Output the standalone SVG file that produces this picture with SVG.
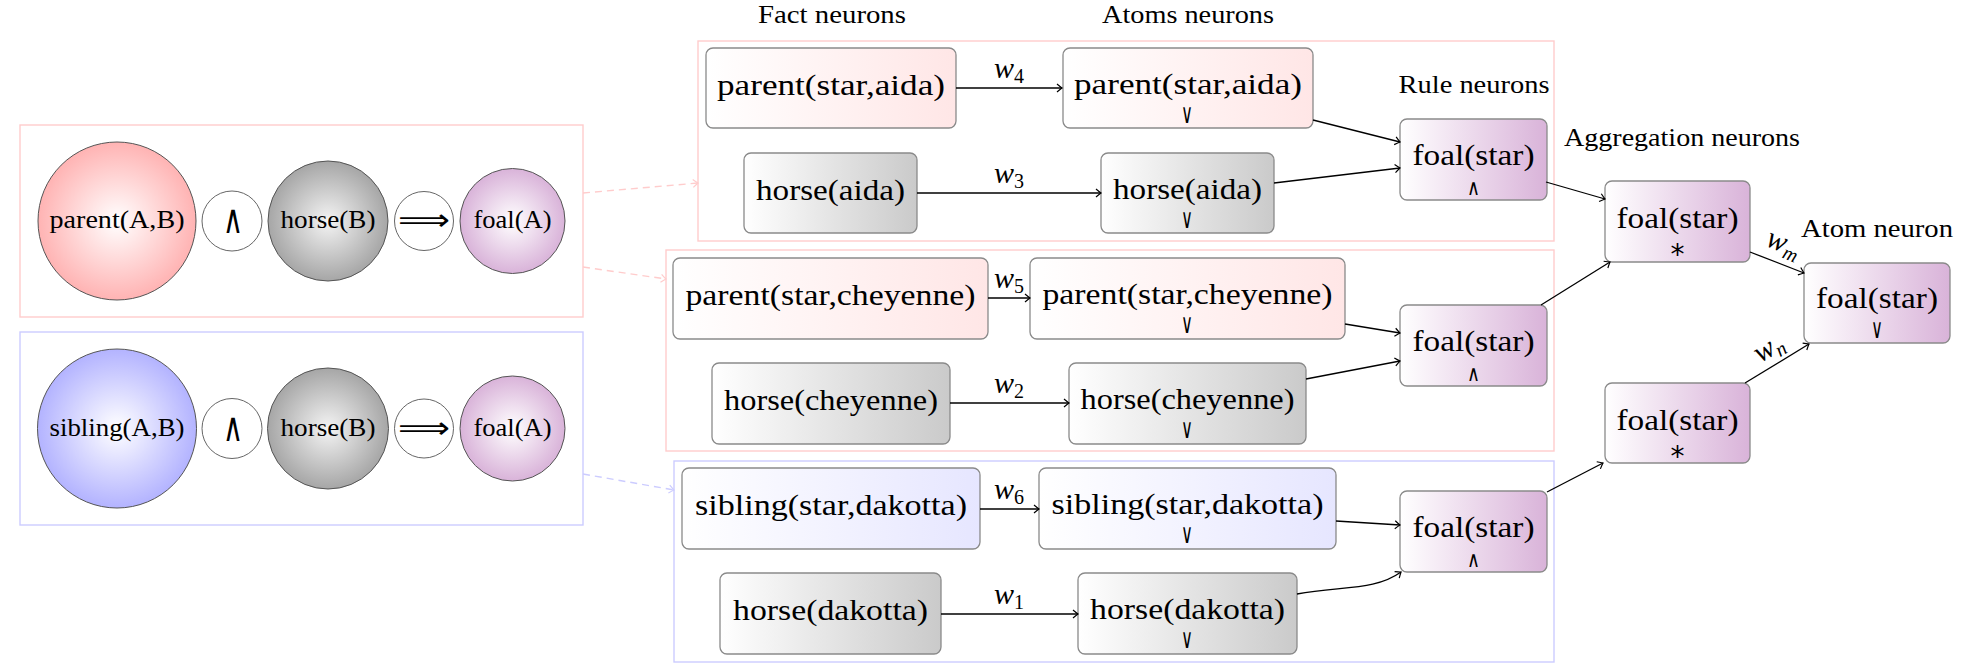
<svg xmlns="http://www.w3.org/2000/svg" width="1974" height="672" viewBox="0 0 1974 672">
<style>
  .lbl { font-family: "Liberation Serif", "DejaVu Serif", serif; font-size: 30px; fill: #000; text-anchor: middle; }
  .clbl { font-family: "Liberation Serif", "DejaVu Serif", serif; font-size: 25px; fill: #000; text-anchor: middle; }
  .hdr { font-family: "Liberation Serif", "DejaVu Serif", serif; font-size: 26px; fill: #000; text-anchor: middle; }
  .sym { font-family: "DejaVu Sans", sans-serif; font-size: 27px; fill: #000; text-anchor: middle; }
  .rsym { font-family: "DejaVu Sans", sans-serif; font-size: 22px; fill: #000; text-anchor: middle; }
  .ast { font-family: "DejaVu Sans", sans-serif; font-size: 28px; fill: #000; text-anchor: middle; }
  .bigsym { font-family: "DejaVu Sans", sans-serif; fill: #000; text-anchor: middle; }
  .w { font-family: "Liberation Serif", "DejaVu Serif", serif; font-size: 30px; font-style: italic; fill: #000; }
  .sub { font-size: 20px; font-style: normal; }
  .subi { font-size: 20px; font-style: italic; }
  .box { stroke: #8a8a8a; stroke-width: 1.3; }
  .ball { stroke: #555; stroke-width: 1; }
  .op { fill: #fff; stroke: #666; stroke-width: 1; }
  .frP { fill: none; stroke: #ffcccc; stroke-width: 1.4; }
  .frB { fill: none; stroke: #ccccff; stroke-width: 1.4; }
  .edge { fill: none; stroke: #000; stroke-width: 1.3; marker-end: url(#arr); }
  .dP { fill: none; stroke: #ffcccc; stroke-width: 1.4; stroke-dasharray: 7 5; marker-end: url(#arrP); }
  .dB { fill: none; stroke: #ccccff; stroke-width: 1.4; stroke-dasharray: 7 5; marker-end: url(#arrB); }
</style>
<defs>
  <linearGradient id="gPink" x1="0" y1="0" x2="1" y2="0"><stop offset="0" stop-color="#ffffff"/><stop offset="1" stop-color="#ffe6e6"/></linearGradient>
  <linearGradient id="gBlue" x1="0" y1="0" x2="1" y2="0"><stop offset="0" stop-color="#ffffff"/><stop offset="1" stop-color="#e6e6ff"/></linearGradient>
  <linearGradient id="gGray" x1="0" y1="0" x2="1" y2="0"><stop offset="0" stop-color="#ffffff"/><stop offset="1" stop-color="#cacaca"/></linearGradient>
  <linearGradient id="gViolet" x1="0" y1="0" x2="1" y2="0"><stop offset="0" stop-color="#ffffff"/><stop offset="1" stop-color="#d9b3d9"/></linearGradient>
  <radialGradient id="rPink"><stop offset="0" stop-color="#ffffff"/><stop offset="1" stop-color="#ffb3b3"/></radialGradient>
  <radialGradient id="rBlue"><stop offset="0" stop-color="#ffffff"/><stop offset="1" stop-color="#b3b3ff"/></radialGradient>
  <radialGradient id="rGray"><stop offset="0" stop-color="#f4f4f4"/><stop offset="1" stop-color="#a6a6a6"/></radialGradient>
  <radialGradient id="rViolet"><stop offset="0" stop-color="#ffffff"/><stop offset="1" stop-color="#d9b3d9"/></radialGradient>
  <marker id="arr" markerUnits="userSpaceOnUse" markerWidth="12" markerHeight="12" viewBox="-7 -6 8 12" refX="0" refY="0" orient="auto" overflow="visible">
    <path d="M-5,-4 Q-1.5,-1 0,0 Q-1.5,1 -5,4" fill="none" stroke="#000" stroke-width="1.2"/>
  </marker>
  <marker id="arrP" markerUnits="userSpaceOnUse" markerWidth="12" markerHeight="12" viewBox="-7 -6 8 12" refX="0" refY="0" orient="auto" overflow="visible">
    <path d="M-5,-4 Q-1.5,-1 0,0 Q-1.5,1 -5,4" fill="none" stroke="#ffcccc" stroke-width="1.2"/>
  </marker>
  <marker id="arrB" markerUnits="userSpaceOnUse" markerWidth="12" markerHeight="12" viewBox="-7 -6 8 12" refX="0" refY="0" orient="auto" overflow="visible">
    <path d="M-5,-4 Q-1.5,-1 0,0 Q-1.5,1 -5,4" fill="none" stroke="#ccccff" stroke-width="1.2"/>
  </marker>
</defs>
<rect width="1974" height="672" fill="#fff"/>

<!-- frames -->
<g id="frames">
  <rect class="frP" x="20" y="125" width="563" height="192"/>
  <rect class="frB" x="20" y="332" width="563" height="193"/>
  <rect class="frP" x="698" y="41" width="856" height="200"/>
  <rect class="frP" x="666" y="250" width="888" height="201"/>
  <rect class="frB" x="674" y="461" width="880" height="201"/>
</g>

<!-- headers -->
<g id="headers">
  <text class="hdr" x="832" y="23" textLength="148" lengthAdjust="spacingAndGlyphs">Fact neurons</text>
  <text class="hdr" x="1188" y="23" textLength="172" lengthAdjust="spacingAndGlyphs">Atoms neurons</text>
  <text class="hdr" x="1474" y="93" textLength="151" lengthAdjust="spacingAndGlyphs">Rule neurons</text>
  <text class="hdr" x="1682" y="146" textLength="236" lengthAdjust="spacingAndGlyphs">Aggregation neurons</text>
  <text class="hdr" x="1877" y="237" textLength="152" lengthAdjust="spacingAndGlyphs">Atom neuron</text>
</g>

<!-- rule 1 (left) -->
<g id="rule1-parent"><circle class="ball" cx="117" cy="221" r="79" fill="url(#rPink)"/><text class="clbl" x="117" y="228" textLength="135" lengthAdjust="spacingAndGlyphs">parent(A,B)</text></g>
<g id="rule1-and"><circle class="op" cx="232" cy="221" r="30"/><text class="bigsym" x="233" y="233" font-size="40" textLength="20" lengthAdjust="spacingAndGlyphs">∧</text></g>
<g id="rule1-horse"><circle class="ball" cx="328" cy="221" r="60" fill="url(#rGray)"/><text class="clbl" x="328" y="228" textLength="95" lengthAdjust="spacingAndGlyphs">horse(B)</text></g>
<g id="rule1-impl"><circle class="op" cx="424" cy="221" r="29.5"/><text class="bigsym" x="424" y="230" font-size="30" textLength="52" lengthAdjust="spacingAndGlyphs">⟹</text></g>
<g id="rule1-foal"><circle class="ball" cx="512.5" cy="221" r="52.5" fill="url(#rViolet)"/><text class="clbl" x="512.5" y="228" textLength="78" lengthAdjust="spacingAndGlyphs">foal(A)</text></g>

<!-- rule 2 (left) -->
<g id="rule2-sibling"><circle class="ball" cx="117" cy="428.5" r="79.5" fill="url(#rBlue)"/><text class="clbl" x="117" y="435.5" textLength="135" lengthAdjust="spacingAndGlyphs">sibling(A,B)</text></g>
<g id="rule2-and"><circle class="op" cx="232" cy="428.5" r="30"/><text class="bigsym" x="233" y="440.5" font-size="40" textLength="20" lengthAdjust="spacingAndGlyphs">∧</text></g>
<g id="rule2-horse"><circle class="ball" cx="328" cy="428.5" r="60.5" fill="url(#rGray)"/><text class="clbl" x="328" y="435.5" textLength="95" lengthAdjust="spacingAndGlyphs">horse(B)</text></g>
<g id="rule2-impl"><circle class="op" cx="424" cy="428.5" r="29.5"/><text class="bigsym" x="424" y="437.5" font-size="30" textLength="52" lengthAdjust="spacingAndGlyphs">⟹</text></g>
<g id="rule2-foal"><circle class="ball" cx="512.5" cy="428.5" r="52.5" fill="url(#rViolet)"/><text class="clbl" x="512.5" y="435.5" textLength="78" lengthAdjust="spacingAndGlyphs">foal(A)</text></g>

<!-- fact neurons -->
<g id="fact-parent-aida"><rect class="box" x="706" y="48" width="250" height="80" rx="7" fill="url(#gPink)"/><text class="lbl" x="831" y="95" textLength="228" lengthAdjust="spacingAndGlyphs">parent(star,aida)</text></g>
<g id="fact-horse-aida"><rect class="box" x="744" y="153" width="173" height="80" rx="7" fill="url(#gGray)"/><text class="lbl" x="830.5" y="200" textLength="149" lengthAdjust="spacingAndGlyphs">horse(aida)</text></g>
<g id="fact-parent-cheyenne"><rect class="box" x="673" y="258" width="315" height="81" rx="7" fill="url(#gPink)"/><text class="lbl" x="830.5" y="305" textLength="290" lengthAdjust="spacingAndGlyphs">parent(star,cheyenne)</text></g>
<g id="fact-horse-cheyenne"><rect class="box" x="712" y="363" width="238" height="81" rx="7" fill="url(#gGray)"/><text class="lbl" x="831" y="410" textLength="214" lengthAdjust="spacingAndGlyphs">horse(cheyenne)</text></g>
<g id="fact-sibling-dakotta"><rect class="box" x="682" y="468" width="298" height="81" rx="7" fill="url(#gBlue)"/><text class="lbl" x="831" y="515" textLength="272" lengthAdjust="spacingAndGlyphs">sibling(star,dakotta)</text></g>
<g id="fact-horse-dakotta"><rect class="box" x="720" y="573" width="221" height="81" rx="7" fill="url(#gGray)"/><text class="lbl" x="830.5" y="620" textLength="195" lengthAdjust="spacingAndGlyphs">horse(dakotta)</text></g>

<!-- atom neurons -->
<g id="atom-parent-aida"><rect class="box" x="1063" y="48" width="250" height="80" rx="7" fill="url(#gPink)"/><text class="lbl" x="1188" y="94" textLength="228" lengthAdjust="spacingAndGlyphs">parent(star,aida)</text><text class="sym" x="1187" y="123" textLength="12" lengthAdjust="spacingAndGlyphs">∨</text></g>
<g id="atom-horse-aida"><rect class="box" x="1101" y="153" width="173" height="80" rx="7" fill="url(#gGray)"/><text class="lbl" x="1187.5" y="199" textLength="149" lengthAdjust="spacingAndGlyphs">horse(aida)</text><text class="sym" x="1187" y="228" textLength="12" lengthAdjust="spacingAndGlyphs">∨</text></g>
<g id="atom-parent-cheyenne"><rect class="box" x="1030" y="258" width="315" height="81" rx="7" fill="url(#gPink)"/><text class="lbl" x="1187.5" y="304" textLength="290" lengthAdjust="spacingAndGlyphs">parent(star,cheyenne)</text><text class="sym" x="1187" y="333" textLength="12" lengthAdjust="spacingAndGlyphs">∨</text></g>
<g id="atom-horse-cheyenne"><rect class="box" x="1069" y="363" width="237" height="81" rx="7" fill="url(#gGray)"/><text class="lbl" x="1187.5" y="409" textLength="214" lengthAdjust="spacingAndGlyphs">horse(cheyenne)</text><text class="sym" x="1187" y="438" textLength="12" lengthAdjust="spacingAndGlyphs">∨</text></g>
<g id="atom-sibling-dakotta"><rect class="box" x="1039" y="468" width="297" height="81" rx="7" fill="url(#gBlue)"/><text class="lbl" x="1187.5" y="514" textLength="272" lengthAdjust="spacingAndGlyphs">sibling(star,dakotta)</text><text class="sym" x="1187" y="543" textLength="12" lengthAdjust="spacingAndGlyphs">∨</text></g>
<g id="atom-horse-dakotta"><rect class="box" x="1078" y="573" width="219" height="81" rx="7" fill="url(#gGray)"/><text class="lbl" x="1187.5" y="619" textLength="195" lengthAdjust="spacingAndGlyphs">horse(dakotta)</text><text class="sym" x="1187" y="648" textLength="12" lengthAdjust="spacingAndGlyphs">∨</text></g>

<!-- rule neurons -->
<g id="rule-neuron-1"><rect class="box" x="1400" y="119" width="147" height="81" rx="7" fill="url(#gViolet)"/><text class="lbl" x="1473.5" y="165" textLength="122" lengthAdjust="spacingAndGlyphs">foal(star)</text><text class="rsym" x="1473.5" y="195" textLength="13" lengthAdjust="spacingAndGlyphs">∧</text></g>
<g id="rule-neuron-2"><rect class="box" x="1400" y="305" width="147" height="81" rx="7" fill="url(#gViolet)"/><text class="lbl" x="1473.5" y="351" textLength="122" lengthAdjust="spacingAndGlyphs">foal(star)</text><text class="rsym" x="1473.5" y="381" textLength="13" lengthAdjust="spacingAndGlyphs">∧</text></g>
<g id="rule-neuron-3"><rect class="box" x="1400" y="491" width="147" height="81" rx="7" fill="url(#gViolet)"/><text class="lbl" x="1473.5" y="537" textLength="122" lengthAdjust="spacingAndGlyphs">foal(star)</text><text class="rsym" x="1473.5" y="567" textLength="13" lengthAdjust="spacingAndGlyphs">∧</text></g>

<!-- aggregation neurons -->
<g id="agg-neuron-1"><rect class="box" x="1605" y="181" width="145" height="81" rx="7" fill="url(#gViolet)"/><text class="lbl" x="1677.5" y="228" textLength="122" lengthAdjust="spacingAndGlyphs">foal(star)</text><text class="ast" x="1677.5" y="264">*</text></g>
<g id="agg-neuron-2"><rect class="box" x="1605" y="383" width="145" height="80" rx="7" fill="url(#gViolet)"/><text class="lbl" x="1677.5" y="430" textLength="122" lengthAdjust="spacingAndGlyphs">foal(star)</text><text class="ast" x="1677.5" y="466">*</text></g>

<!-- final atom neuron -->
<g id="atom-neuron-final"><rect class="box" x="1804" y="263" width="146" height="80" rx="7" fill="url(#gViolet)"/><text class="lbl" x="1877" y="308" textLength="122" lengthAdjust="spacingAndGlyphs">foal(star)</text><text class="sym" x="1877" y="338" textLength="12" lengthAdjust="spacingAndGlyphs">∨</text></g>

<!-- connectors -->
<g id="connectors">
  <path class="dP" d="M583,193 L698,183"/>
  <path class="dP" d="M583,267 L666,279"/>
  <path class="dB" d="M583,474 L674,490"/>

  <path class="edge" d="M956,88 L1062,88"/>
  <path class="edge" d="M917,193 L1101,193"/>
  <path class="edge" d="M988,298 L1030,298"/>
  <path class="edge" d="M950,403 L1069,403"/>
  <path class="edge" d="M980,509 L1039,509"/>
  <path class="edge" d="M941,614 L1078,614"/>

  <path class="edge" d="M1313,120 L1400,142"/>
  <path class="edge" d="M1274,183 L1400,168"/>
  <path class="edge" d="M1345,324 L1400,333"/>
  <path class="edge" d="M1306,379 L1400,361"/>
  <path class="edge" d="M1336,521 L1400,525"/>
  <path class="edge" d="M1297,594 C1345,586 1376,590 1401,572"/>

  <path class="edge" d="M1546,182 L1605,199"/>
  <path class="edge" d="M1541,305 L1610,262"/>
  <path class="edge" d="M1547,492 L1603,463"/>
  <path class="edge" d="M1750,252 L1804,273"/>
  <path class="edge" d="M1745,383 L1809,344"/>

  <text class="w" x="994" y="78">w<tspan class="sub" dy="5">4</tspan></text>
  <text class="w" x="994" y="183">w<tspan class="sub" dy="5">3</tspan></text>
  <text class="w" x="994" y="288">w<tspan class="sub" dy="5">5</tspan></text>
  <text class="w" x="994" y="393">w<tspan class="sub" dy="5">2</tspan></text>
  <text class="w" x="994" y="499">w<tspan class="sub" dy="5">6</tspan></text>
  <text class="w" x="994" y="604">w<tspan class="sub" dy="5">1</tspan></text>
  <g transform="translate(1782,248) rotate(21.6)"><text class="w" x="0" y="4" text-anchor="middle">w<tspan class="subi" dy="5">m</tspan></text></g>
  <g transform="translate(1771,352) rotate(-31)"><text class="w" x="0" y="4" text-anchor="middle">w<tspan class="subi" dy="5">n</tspan></text></g>
</g>
</svg>
